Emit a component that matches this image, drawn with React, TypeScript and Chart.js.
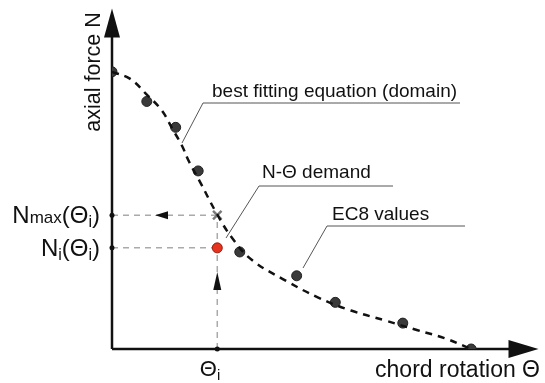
import React, { useEffect, useRef } from "react";
import { Chart, registerables } from "chart.js";

Chart.register(...registerables);

// fitted curve (domain)
const curveX = [0, 0.42, 0.82, 1.17, 1.43, 1.64, 1.82, 2.06, 2.48, 2.83, 3.29, 4.09, 4.86, 5.63, 6.43, 7.2, 7.83, 8.46];
const curveY = [8.14, 7.94, 7.47, 7.01, 6.45, 5.99, 5.49, 4.94, 3.95, 3.26, 2.62, 2.01, 1.51, 1.13, 0.84, 0.55, 0.32, 0];
// EC8 values
const ec8X = [0, 0.82, 1.5, 2.03, 3.01, 4.35, 5.26, 6.85, 8.46];
const ec8Y = [8.14, 7.27, 6.51, 5.23, 2.85, 2.15, 1.37, 0.76, 0];
// demand
const thetaI = 2.48;
const nMax = 3.93;
const nI = 2.97;

const FONT = "'Liberation Sans', Arial, sans-serif";

const drawPlugin = {
  id: "diagram",
  beforeDatasetsDraw(chart: any) {
    const ctx = chart.ctx as CanvasRenderingContext2D;
    const xs = chart.scales.x;
    const ys = chart.scales.y;
    const ca = chart.chartArea;
    const x0 = xs.getPixelForValue(0);
    const y0 = ys.getPixelForValue(0);
    const px = xs.getPixelForValue(thetaI);
    const pyMax = ys.getPixelForValue(nMax);
    const pyI = ys.getPixelForValue(nI);
    ctx.save();
    // guides
    ctx.strokeStyle = "#aaaaaa";
    ctx.lineWidth = 1.5;
    ctx.setLineDash([6, 5]);
    ctx.beginPath();
    ctx.moveTo(x0, pyMax);
    ctx.lineTo(px, pyMax);
    ctx.moveTo(x0, pyI);
    ctx.lineTo(px, pyI);
    ctx.moveTo(px, y0);
    ctx.lineTo(px, pyMax);
    ctx.stroke();
    ctx.setLineDash([]);
    // guide arrowheads
    ctx.fillStyle = "#111";
    ctx.beginPath();
    ctx.moveTo(155, pyMax);
    ctx.lineTo(168, pyMax - 4);
    ctx.lineTo(168, pyMax + 4);
    ctx.closePath();
    ctx.fill();
    ctx.beginPath();
    ctx.moveTo(px, 272);
    ctx.lineTo(px - 4, 290);
    ctx.lineTo(px + 4, 290);
    ctx.closePath();
    ctx.fill();
    // axes
    ctx.strokeStyle = "#111";
    ctx.lineWidth = 2.5;
    ctx.beginPath();
    ctx.moveTo(x0, y0);
    ctx.lineTo(x0, ca.top + 25);
    ctx.moveTo(x0, y0);
    ctx.lineTo(ca.right - 25, y0);
    ctx.stroke();
    ctx.beginPath();
    ctx.moveTo(x0, ca.top);
    ctx.lineTo(x0 - 8, ca.top + 29);
    ctx.lineTo(x0 + 8, ca.top + 29);
    ctx.closePath();
    ctx.fill();
    ctx.beginPath();
    ctx.moveTo(ca.right + 2, y0);
    ctx.lineTo(ca.right - 28, y0 - 9);
    ctx.lineTo(ca.right - 28, y0 + 9);
    ctx.closePath();
    ctx.fill();
    // small dots
    for (const [a, b] of [[x0, pyMax], [x0, pyI], [px, y0]]) {
      ctx.beginPath();
      ctx.arc(a, b, 2.5, 0, Math.PI * 2);
      ctx.fill();
    }
    // leader lines
    ctx.strokeStyle = "#555";
    ctx.lineWidth = 1;
    ctx.beginPath();
    ctx.moveTo(182, 143);
    ctx.lineTo(203, 103);
    ctx.lineTo(460, 103);
    ctx.moveTo(226, 238);
    ctx.lineTo(259, 186);
    ctx.lineTo(393, 186);
    ctx.moveTo(303, 268);
    ctx.lineTo(327, 226);
    ctx.lineTo(465, 226);
    ctx.stroke();
    ctx.restore();
  },
  afterDatasetsDraw(chart: any) {
    const ctx = chart.ctx as CanvasRenderingContext2D;
    const xs = chart.scales.x;
    const ys = chart.scales.y;
    const px = xs.getPixelForValue(thetaI);
    const pyMax = ys.getPixelForValue(nMax);
    const pyI = ys.getPixelForValue(nI);
    ctx.save();
    ctx.fillStyle = "#111";
    ctx.textBaseline = "alphabetic";
    const runs = (parts: [string, number, number][], right: number, base: number) => {
      let w = 0;
      for (const [t, s] of parts) {
        ctx.font = `${s}px ${FONT}`;
        w += ctx.measureText(t).width;
      }
      let x = right - w;
      ctx.textAlign = "left";
      for (const [t, s, dy] of parts) {
        ctx.font = `${s}px ${FONT}`;
        ctx.fillText(t, x, base + dy);
        x += ctx.measureText(t).width;
      }
    };
    runs([["N", 24, 0], ["max", 17, 0], ["(Θ", 24, 0], ["i", 16, 4], [")", 24, 0]], 100, pyMax + 8);
    runs([["N", 24, 0], ["i", 16, 4], ["(Θ", 24, 0], ["i", 16, 4], [")", 24, 0]], 100, pyI + 8);
    runs([["Θ", 22, 0], ["i", 15, 4]], px + 3, 376);
    ctx.textAlign = "right";
    ctx.font = `23px ${FONT}`;
    ctx.fillText("chord rotation Θ", 540, 377);
    ctx.textAlign = "left";
    ctx.font = `19px ${FONT}`;
    ctx.fillText("best fitting equation (domain)", 212, 97);
    ctx.fillText("N-Θ demand", 262, 178);
    ctx.fillText("EC8 values", 332, 220);
    ctx.save();
    ctx.translate(100, 72);
    ctx.rotate(-Math.PI / 2);
    ctx.textAlign = "center";
    ctx.font = `21.5px ${FONT}`;
    ctx.fillText("axial force N", 0, 0);
    ctx.restore();
    ctx.restore();
  },
};

export default function App() {
  const ref = useRef<HTMLCanvasElement>(null);
  useEffect(() => {
    document.body.style.margin = "0";
    const chart = new Chart(ref.current!, {
      type: "scatter",
      data: {
        datasets: [
          {
            type: "line",
            data: curveX.map((x, i) => ({ x, y: curveY[i] })),
            borderColor: "#111",
            borderWidth: 2.5,
            borderDash: [7, 6],
            pointRadius: 0,
            tension: 0.4,
            fill: false,
          } as any,
          {
            data: ec8X.map((x, i) => ({ x, y: ec8Y[i] })),
            pointRadius: 5,
            pointBackgroundColor: "#3a3a3a",
            pointBorderColor: "#222",
            pointBorderWidth: 1,
          },
          {
            data: [{ x: thetaI, y: nMax }],
            pointStyle: "crossRot",
            pointRadius: 6,
            pointBorderColor: "#7a7a7a",
            pointBorderWidth: 2.5,
          },
          {
            data: [{ x: thetaI, y: nI }],
            pointRadius: 5,
            pointBackgroundColor: "#e63320",
            pointBorderColor: "#9a1c0c",
            pointBorderWidth: 1,
          },
        ],
      },
      options: {
        animation: false,
        responsive: false,
        maintainAspectRatio: false,
        devicePixelRatio: 1,
        layout: { padding: { left: 112, right: 5, top: 5, bottom: 34 } },
        scales: {
          x: { type: "linear", display: false, min: 0, max: 10 },
          y: { type: "linear", display: false, min: 0, max: 10 },
        },
        plugins: { legend: { display: false }, tooltip: { enabled: false } },
      },
      plugins: [drawPlugin],
    });
    return () => chart.destroy();
  }, []);
  return (
    <div style={{ width: 545, height: 383, background: "#fff" }}>
      <canvas ref={ref} width={545} height={383} style={{ display: "block" }} />
    </div>
  );
}
